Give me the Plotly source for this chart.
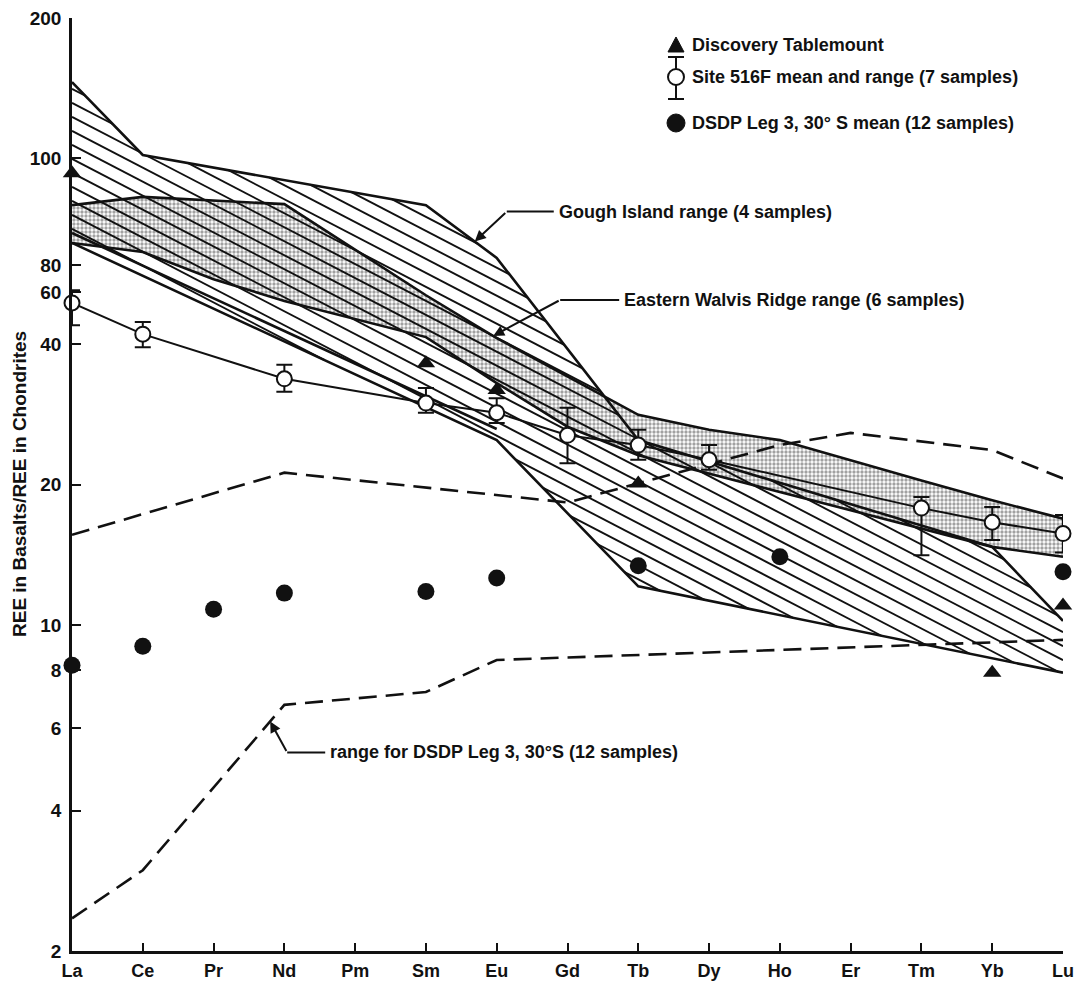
import numpy as np
import plotly.graph_objects as go

# ---------------- data ----------------
ELEMENTS = ['La', 'Ce', 'Pr', 'Nd', 'Pm', 'Sm', 'Eu', 'Gd', 'Tb', 'Dy', 'Ho', 'Er', 'Tm', 'Yb', 'Lu']

SITE_EL = ['La', 'Ce', 'Nd', 'Sm', 'Eu', 'Gd', 'Tb', 'Dy', 'Tm', 'Yb', 'Lu']
SITE_MEAN = [49.0, 42.0, 33.7, 29.9, 28.5, 25.5, 24.3, 22.6, 17.8, 16.6, 15.7]
SITE_MAX = [52.2, 44.6, 36.1, 32.2, 30.6, 29.2, 26.2, 24.3, 18.8, 17.9, 17.2]
SITE_MIN = [43.9, 39.4, 31.6, 28.5, 27.1, 22.2, 22.6, 21.5, 14.1, 15.2, 14.3]

DISC_EL = ['La', 'Sm', 'Eu', 'Tb', 'Yb', 'Lu']
DISC_VAL = [93.0, 36.4, 31.9, 20.1, 7.9, 11.0]

DSDP_MEAN_EL = ['La', 'Ce', 'Pr', 'Nd', 'Sm', 'Eu', 'Tb', 'Ho', 'Lu']
DSDP_MEAN_VAL = [8.2, 9.0, 10.8, 11.7, 11.8, 12.6, 13.4, 14.0, 13.0]

DSDP_UP_EL = ['La', 'Nd', 'Gd', 'Ho', 'Er', 'Yb', 'Lu']
DSDP_UP_VAL = [15.6, 21.2, 18.3, 24.3, 25.8, 23.7, 20.6]
DSDP_LO_EL = ['La', 'Ce', 'Nd', 'Sm', 'Eu', 'Lu']
DSDP_LO_VAL = [2.35, 2.98, 6.74, 7.18, 8.41, 9.29]

GOUGH_UP_EL = ['La', 'Ce', 'Sm', 'Eu', 'Tb', 'Yb', 'Lu']
GOUGH_UP_VAL = [145.8, 101.7, 79.4, 61.2, 24.9, 14.7, 10.2]
GOUGH_LO_EL = ['La', 'Eu', 'Tb', 'Lu']
GOUGH_LO_VAL = [65.9, 24.9, 12.1, 7.9]
GOUGH_INNER_EL = ['La', 'Eu']
GOUGH_INNER_VAL = [69.2, 26.3]

WALVIS_UP_EL = ['La', 'Ce', 'Nd', 'Sm', 'Eu', 'Tb', 'Dy', 'Ho', 'Tm', 'Yb', 'Lu']
WALVIS_UP_VAL = [79.4, 82.7, 79.8, 50.9, 41.2, 28.2, 26.2, 24.9, 20.4, 18.5, 16.9]
WALVIS_LO_EL = ['La', 'Ce', 'Pr', 'Nd', 'Sm', 'Eu', 'Gd', 'Tb', 'Yb', 'Lu']
WALVIS_LO_VAL = [65.9, 63.0, 55.1, 49.5, 41.4, 33.0, 26.6, 23.1, 14.7, 14.0]

# tick labels as printed on the original figure (its 80/60 labels sit off the log grid)
Y_TICK_TEXT = ['2', '4', '6', '8', '10', '20', '40', '60', '80', '100', '200']
Y_TICK_VALS = [2, 4, 6, 8, 10, 20, 40, 51.7, 59.1, 100, 200]

# ---------------- layout constants ----------------
W, H = 1077, 985
ML, MR, MT, MB = 72, 14, 18, 34
PW, PH = W - ML - MR, H - MT - MB
YMIN, YMAX = 2, 200
U0, U1 = np.log10(YMIN), np.log10(YMAX)
FONT = 'Liberation Sans'

IDX = {e: i for i, e in enumerate(ELEMENTS)}


def xs(els):
    return [IDX[e] for e in els]


def to_px(x, u):
    return ML + x * PW / 14.0, MT + (U1 - u) / (U1 - U0) * PH


def paper(X, Y):
    return (X - ML) / PW, (MT + PH - Y) / PH


def interp_u(els, vals, x):
    return float(np.interp(x, xs(els), np.log10(vals)))


def hatch(poly_x, poly_u, pix_slope, pix_step):
    px = np.asarray(poly_x, float)
    pu = np.asarray(poly_u, float)
    slope = -pix_slope * (PW / 14.0) / (PH / (U1 - U0))
    step = pix_step * (U1 - U0) / PH
    cs = pu - slope * px
    out_x, out_y = [], []
    n = len(px)
    for c in np.arange(cs.min() + step * 0.5, cs.max(), step):
        f = pu - slope * px - c
        pts = []
        for i in range(n):
            j = (i + 1) % n
            if (f[i] > 0) != (f[j] > 0):
                t = f[i] / (f[i] - f[j])
                pts.append(px[i] + t * (px[j] - px[i]))
        pts.sort()
        for k in range(0, len(pts) - 1, 2):
            a, b = pts[k], pts[k + 1]
            out_x += [a, b, None]
            out_y += [10 ** (c + slope * a), 10 ** (c + slope * b), None]
    return out_x, out_y


fig = go.Figure()

# Eastern Walvis Ridge stippled band
wx = xs(WALVIS_UP_EL) + xs(WALVIS_LO_EL)[::-1]
wy = WALVIS_UP_VAL + WALVIS_LO_VAL[::-1]
fig.add_trace(go.Scatter(
    x=wx, y=wy, mode='none', fill='toself', fillcolor='rgba(0,0,0,0)',
    fillpattern=dict(shape='.', size=4, solidity=0.55, fgcolor='#444', bgcolor='rgba(0,0,0,0)'),
    hoverinfo='skip', showlegend=False))

# Gough Island hatched range
gx = xs(GOUGH_UP_EL) + xs(GOUGH_LO_EL)[::-1]
gu = list(np.log10(GOUGH_UP_VAL)) + list(np.log10(GOUGH_LO_VAL))[::-1]
hx, hy = hatch(gx, gu, 0.52, 14)
fig.add_trace(go.Scatter(x=hx, y=hy, mode='lines', line=dict(color='#111', width=1.9),
                         hoverinfo='skip', showlegend=False))

# boundary lines
for els, vals in [(GOUGH_UP_EL, GOUGH_UP_VAL), (GOUGH_LO_EL, GOUGH_LO_VAL),
                  (GOUGH_INNER_EL, GOUGH_INNER_VAL),
                  (WALVIS_UP_EL, WALVIS_UP_VAL), (WALVIS_LO_EL, WALVIS_LO_VAL)]:
    fig.add_trace(go.Scatter(x=xs(els), y=vals, mode='lines',
                             line=dict(color='#111', width=2.6), hoverinfo='skip', showlegend=False))

# DSDP Leg 3 range (dashed)
for els, vals in [(DSDP_UP_EL, DSDP_UP_VAL), (DSDP_LO_EL, DSDP_LO_VAL)]:
    fig.add_trace(go.Scatter(x=xs(els), y=vals, mode='lines',
                             line=dict(color='#111', width=2.6, dash='18px,9px'),
                             hoverinfo='skip', showlegend=False))

# Site 516F mean and range
fig.add_trace(go.Scatter(
    x=xs(SITE_EL), y=SITE_MEAN, mode='lines+markers', cliponaxis=False,
    line=dict(color='#111', width=2),
    marker=dict(symbol='circle', size=15, color='white', line=dict(color='#111', width=2)),
    error_y=dict(type='data', symmetric=False,
                 array=[a - m for a, m in zip(SITE_MAX, SITE_MEAN)],
                 arrayminus=[m - b for m, b in zip(SITE_MEAN, SITE_MIN)],
                 color='#111', thickness=2, width=8),
    showlegend=False))

# Discovery Tablemount
fig.add_trace(go.Scatter(x=xs(DISC_EL), y=DISC_VAL, mode='markers', cliponaxis=False,
                         marker=dict(symbol='triangle-up', size=16, color='#111'),
                         showlegend=False))

# DSDP Leg 3 mean
fig.add_trace(go.Scatter(x=xs(DSDP_MEAN_EL), y=DSDP_MEAN_VAL, mode='markers', cliponaxis=False,
                         marker=dict(symbol='circle', size=17, color='#111'),
                         showlegend=False))

shapes = []
annotations = []
tfont = dict(family=FONT, size=18, color='#111', weight='bold')


def callout(text, tip_x, tip_u, elbow_dx, elbow_dy, text_dx):
    tX, tY = to_px(tip_x, tip_u)
    eX, eY = tX + elbow_dx, tY + elbow_dy
    px0, py0 = paper(tX, tY)
    annotations.append(dict(xref='paper', yref='paper', x=px0, y=py0, text='',
                            showarrow=True, ax=elbow_dx, ay=elbow_dy,
                            arrowhead=2, arrowsize=1.1, arrowwidth=2, arrowcolor='#111'))
    a0, b0 = paper(eX, eY)
    a1, b1 = paper(eX + text_dx - 3, eY)
    shapes.append(dict(type='line', xref='paper', yref='paper', x0=a0, y0=b0, x1=a1, y1=b1,
                       line=dict(color='#111', width=2)))
    a2, b2 = paper(eX + text_dx, eY)
    annotations.append(dict(xref='paper', yref='paper', x=a2, y=b2, text=text,
                            showarrow=False, xanchor='left', yanchor='middle', font=tfont))


callout('Gough Island range (4 samples)', 5.69, interp_u(GOUGH_UP_EL, GOUGH_UP_VAL, 5.69), 32, -30, 50)
callout('Eastern Walvis Ridge range (6 samples)', 5.95, interp_u(WALVIS_UP_EL, WALVIS_UP_VAL, 5.95), 67, -36, 62)
callout('range for DSDP Leg 3, 30°S (12 samples)', 2.8, interp_u(DSDP_LO_EL, DSDP_LO_VAL, 2.8), 17, 31, 41)

# legend (drawn manually)
LEG_X_SYM, LEG_X_TXT = 676, 690
LEG_ITEMS = ['Discovery Tablemount', 'Site 516F mean and range (7 samples)', 'DSDP Leg 3, 30° S mean (12 samples)']
LEG_Y = [45, 77, 123]
for txt, yy in zip(LEG_ITEMS, LEG_Y):
    a, b = paper(LEG_X_TXT, yy)
    annotations.append(dict(xref='paper', yref='paper', x=a, y=b, text=txt, showarrow=False,
                            xanchor='left', yanchor='middle', font=tfont))


def pp(X, Y):
    a, b = paper(X, Y)
    return f'{a:.5f} {b:.5f}'


y0 = LEG_Y[0]
shapes.append(dict(type='path', xref='paper', yref='paper',
                   path=f'M {pp(LEG_X_SYM-8, y0+7)} L {pp(LEG_X_SYM+8, y0+7)} L {pp(LEG_X_SYM, y0-8)} Z',
                   fillcolor='#111', line=dict(color='#111', width=1)))
y1 = LEG_Y[1]
for (xa, ya, xb, yb) in [(LEG_X_SYM, y1 - 20, LEG_X_SYM, y1 + 22),
                         (LEG_X_SYM - 8, y1 - 20, LEG_X_SYM + 8, y1 - 20),
                         (LEG_X_SYM - 8, y1 + 22, LEG_X_SYM + 8, y1 + 22)]:
    a, b = paper(xa, ya)
    c, d = paper(xb, yb)
    shapes.append(dict(type='line', xref='paper', yref='paper', x0=a, y0=b, x1=c, y1=d,
                       line=dict(color='#111', width=2)))
a, b = paper(LEG_X_SYM - 8, y1 - 8)
c, d = paper(LEG_X_SYM + 8, y1 + 8)
shapes.append(dict(type='circle', xref='paper', yref='paper', x0=a, y0=b, x1=c, y1=d,
                   fillcolor='white', line=dict(color='#111', width=2)))
y2 = LEG_Y[2]
a, b = paper(LEG_X_SYM - 9, y2 - 9)
c, d = paper(LEG_X_SYM + 9, y2 + 9)
shapes.append(dict(type='circle', xref='paper', yref='paper', x0=a, y0=b, x1=c, y1=d,
                   fillcolor='#111', line=dict(color='#111', width=1)))

# y-axis title
a, b = paper(20, 484)
annotations.append(dict(xref='paper', yref='paper', x=a, y=b, text='REE in Basalts/REE in Chondrites',
                        textangle=-90, showarrow=False, xanchor='center', yanchor='middle',
                        font=dict(family=FONT, size=19, color='#111', weight='bold')))

fig.update_layout(
    width=W, height=H, margin=dict(l=ML, r=MR, t=MT, b=MB, pad=0, autoexpand=False),
    paper_bgcolor='white', plot_bgcolor='white',
    shapes=shapes, annotations=annotations, showlegend=False,
    xaxis=dict(range=[0, 14], tickmode='array', tickvals=list(range(len(ELEMENTS))), ticktext=ELEMENTS,
               ticks='inside', ticklen=8, tickwidth=2, tickcolor='#111', ticklabelstandoff=2,
               automargin=False,
               showline=True, linewidth=2.5, linecolor='#111', showgrid=False, zeroline=False,
               tickfont=dict(family=FONT, size=18, color='#111', weight='bold')),
    yaxis=dict(type='log', range=[U0, U1], tickmode='array', tickvals=Y_TICK_VALS, ticktext=Y_TICK_TEXT,
               ticks='inside', ticklen=9, tickwidth=2, tickcolor='#111', ticklabelstandoff=4,
               automargin=False,
               showline=True, linewidth=2.5, linecolor='#111', showgrid=False, zeroline=False,
               tickfont=dict(family=FONT, size=19, color='#111', weight='bold')),
)

fig.write_html('out.html')
